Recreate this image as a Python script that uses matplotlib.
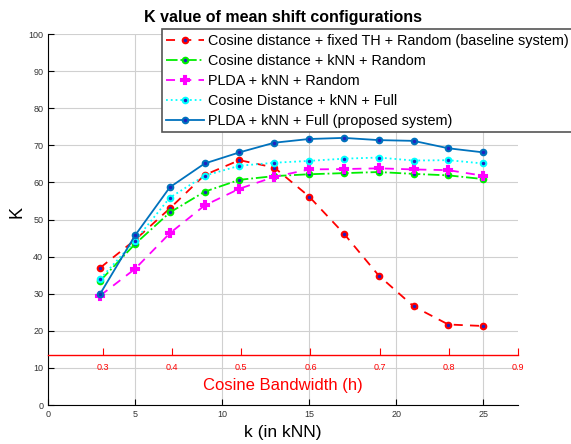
import matplotlib
matplotlib.use('Agg')
import matplotlib.pyplot as plt

plt.rcParams['font.family'] = ['Liberation Sans', 'DejaVu Sans']

# Значения k (в kNN)
k_values = [3, 5, 7, 9, 11, 13, 15, 17, 19, 21, 23, 25]

# Серии K
baseline = [37.0, 44.5, 53.0, 62.0, 66.0, 64.0, 56.2, 46.2, 34.9, 26.6, 21.7, 21.3]
cos_knn_random = [33.5, 43.4, 51.9, 57.5, 60.7, 61.7, 62.2, 62.5, 62.8, 62.3, 61.9, 60.9]
plda_knn_random = [29.5, 36.7, 46.3, 53.8, 58.3, 61.5, 63.5, 63.6, 63.8, 63.5, 63.3, 61.8]
cos_knn_full = [34.0, 44.3, 55.9, 61.8, 64.5, 65.3, 65.8, 66.4, 66.7, 65.9, 66.0, 65.1]
plda_knn_full = [30.0, 45.7, 58.7, 65.1, 68.1, 70.7, 71.7, 72.0, 71.4, 71.2, 69.2, 68.1]

labels = [
    'Cosine distance + fixed TH + Random (baseline system)',
    'Cosine distance + kNN + Random',
    'PLDA + kNN + Random',
    'Cosine Distance + kNN + Full',
    'PLDA + kNN + Full (proposed system)',
]

# Вторая шкала: косинусная ширина окна
bw_ticks = [0.3, 0.4, 0.5, 0.6, 0.7, 0.8, 0.9]

fig = plt.figure(figsize=(5.71, 4.44), dpi=100)
ax = fig.add_axes([0.0841, 0.0878, 0.823, 0.8356])

center = '#2020c0'
styles = [
    (baseline, '#ff0000', (0, (5, 4)), 'o', 4),
    (cos_knn_random, '#00ee00', '-.', 'o', 4),
    (plda_knn_random, '#ff00ff', (0, (5, 4)), 'P', 6),
    (cos_knn_full, '#00ffff', ':', 'o', 4),
    (plda_knn_full, '#0072bd', '-', 'o', 4),
]
for (vals, col, ls, mk, ms), lab in zip(styles, labels):
    ax.plot(k_values, vals, color=col, linestyle=ls, linewidth=1.3,
            marker=mk, markersize=ms, markerfacecolor=center,
            markeredgecolor=col, markeredgewidth=1.5, label=lab)

ax.set_xlim(0, 27)
ax.set_ylim(0, 100)
ax.set_xticks([0, 5, 10, 15, 20, 25])
ax.set_yticks(range(0, 101, 10))
ax.grid(True, color='#d0d0d0', linewidth=0.8)
ax.set_axisbelow(True)
for s in ['top', 'right']:
    ax.spines[s].set_visible(False)
ax.tick_params(direction='in', labelsize=6.5, labelcolor='#333333', length=4)
ax.set_title('K value of mean shift configurations', fontsize=11.5,
             fontweight='bold', pad=9)

fig.text(0.496, 1 - 432 / 444, 'k (in kNN)', fontsize=12.5,
         ha='center', va='center')
fig.text(17 / 571, 1 - 212 / 444, 'K', fontsize=13, rotation=90,
         ha='center', va='center')

leg = ax.legend(loc='upper left', bbox_to_anchor=(0.284, 0.934),
                bbox_transform=fig.transFigure, fontsize=10.4,
                fancybox=False, framealpha=1, edgecolor='#555555',
                borderaxespad=0, handlelength=2.6, labelspacing=0.42,
                borderpad=0.3, handletextpad=0.3)
leg.get_frame().set_linewidth(1.2)

# Вторая ось x внутри графика
ax2 = fig.add_axes([0.0841, 0.2005, 0.823, 0.001])
ax2.patch.set_visible(False)
ax2.set_xlim(0.2205, 0.9)
ax2.set_xticks(bw_ticks)
ax2.set_xticklabels([str(t) for t in bw_ticks])
ax2.set_yticks([])
for s in ['top', 'right', 'left']:
    ax2.spines[s].set_visible(False)
ax2.spines['bottom'].set_color('#ff0000')
ax2.spines['bottom'].set_linewidth(1.0)
ax2.tick_params(axis='x', direction='in', colors='#ff0000', labelsize=6.5,
                length=5, pad=6)
fig.text(0.496, 1 - 385 / 444, 'Cosine Bandwidth (h)', color='#ff0000',
         fontsize=12, ha='center', va='center')

fig.savefig('out.png', dpi=100)
